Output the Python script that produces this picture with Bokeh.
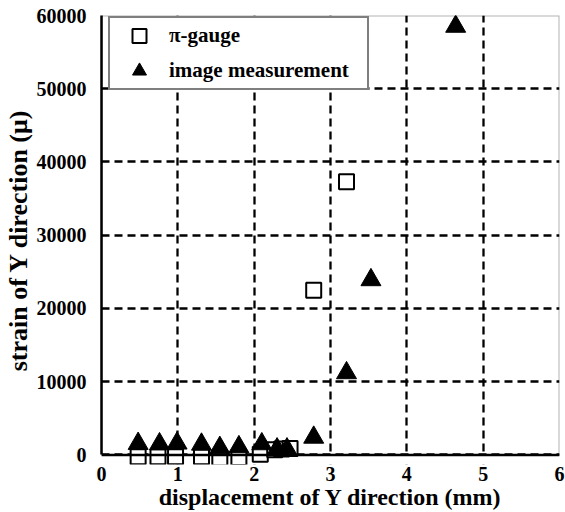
from bokeh.plotting import figure
from bokeh.models import Range1d, FixedTicker, Legend, LegendItem, BoxAnnotation, Span
from bokeh.embed import file_html
from bokeh.resources import INLINE

# π-gauge (open squares)
pi_x = [0.48, 0.74, 0.97, 1.31, 1.55, 1.80, 2.08, 2.27, 2.36, 2.47, 2.78, 3.21]
pi_y = [-250, -250, -250, -250, -400, -350, 100, 700, 800, 900, 22500, 37300]

# image measurement (filled triangles)
im_x = [0.48, 0.76, 0.99, 1.31, 1.55, 1.80, 2.10, 2.30, 2.43, 2.78, 3.21, 3.53, 4.64]
im_y = [1550, 1500, 1600, 1450, 1000, 1100, 1500, 800, 800, 2400, 11200, 23900, 58500]

x_ticks = [0, 1, 2, 3, 4, 5, 6]
y_ticks = [0, 10000, 20000, 30000, 40000, 50000, 60000]
X_MIN, X_MAX = 0, 6
Y_MIN, Y_MAX = 0, 60000

FONT = "Liberation Serif"

# a little room below y=0 so the markers sitting on the axis are not clipped
p = figure(width=565, height=512, output_backend="svg", toolbar_location=None,
           x_range=Range1d(X_MIN, X_MAX), y_range=Range1d(Y_MIN - 1300, Y_MAX),
           min_border_left=101, min_border_right=6, min_border_top=15, min_border_bottom=47)
p.background_fill_color = "white"
p.border_fill_color = "white"
p.outline_line_color = None

for g in (p.xgrid[0], p.ygrid[0]):
    g.grid_line_color = "black"
    g.grid_line_width = 2.3
    g.grid_line_dash = "8 5"
p.xgrid.ticker = FixedTicker(ticks=x_ticks)
p.ygrid.ticker = FixedTicker(ticks=y_ticks)

# hide grid below the x axis
p.add_layout(BoxAnnotation(top=Y_MIN, fill_color="white", fill_alpha=1,
                           line_color=None, level="underlay"))
# plot frame (top / right sides)
p.add_layout(BoxAnnotation(left=X_MIN, right=X_MAX, bottom=Y_MIN, top=Y_MAX,
                           fill_alpha=0, line_color="black", line_width=2,
                           level="underlay"))

r1 = p.scatter(pi_x, pi_y, marker="square", size=15, fill_color="white",
               line_color="black", line_width=2)
r2 = p.scatter(im_x, im_y, marker="triangle", size=20, fill_color="black",
               line_color="black", line_width=1)

# x axis baseline at y = 0
p.add_layout(Span(location=Y_MIN, dimension="width", line_color="black",
                  line_width=2.5, level="overlay"))

for ax in (p.xaxis[0], p.yaxis[0]):
    ax.major_tick_line_color = None
    ax.minor_tick_line_color = None
    ax.major_label_text_font = FONT
    ax.major_label_text_font_style = "bold"
    ax.major_label_text_font_size = "20px"
    ax.major_label_text_color = "black"
    ax.axis_label_text_font = FONT
    ax.axis_label_text_font_style = "bold"
    ax.axis_label_text_color = "black"

p.xaxis.axis_line_color = None
p.yaxis.axis_line_color = "black"
p.yaxis.axis_line_width = 2.5
p.yaxis.bounds = (Y_MIN, Y_MAX)

p.xaxis.axis_label_text_font_size = "24px"
p.yaxis.axis_label_text_font_size = "26px"
p.xaxis.ticker = FixedTicker(ticks=x_ticks)
p.yaxis.ticker = FixedTicker(ticks=y_ticks)
p.xaxis.axis_label = "displacement of Y direction (mm)"
p.yaxis.axis_label = "strain of Y direction (μ)"
p.xaxis.major_label_standoff = -4
p.xaxis.axis_label_standoff = 0
p.yaxis.major_label_standoff = 9
p.yaxis.axis_label_standoff = 1

legend = Legend(items=[LegendItem(label="π-gauge", renderers=[r1]),
                       LegendItem(label="image measurement", renderers=[r2])],
                location=(7, 374), margin=0,
                padding=dict(left=0, right=0, top=0, bottom=0), spacing=0,
                glyph_height=35, glyph_width=58, label_standoff=1, label_width=198,
                label_height=20,
                border_line_color="black", border_line_width=2,
                background_fill_color="white", background_fill_alpha=1,
                label_text_font=FONT, label_text_font_style="bold",
                label_text_font_size="21px", label_text_color="black")
p.add_layout(legend)

open("out.html", "w").write(file_html(p, INLINE))
